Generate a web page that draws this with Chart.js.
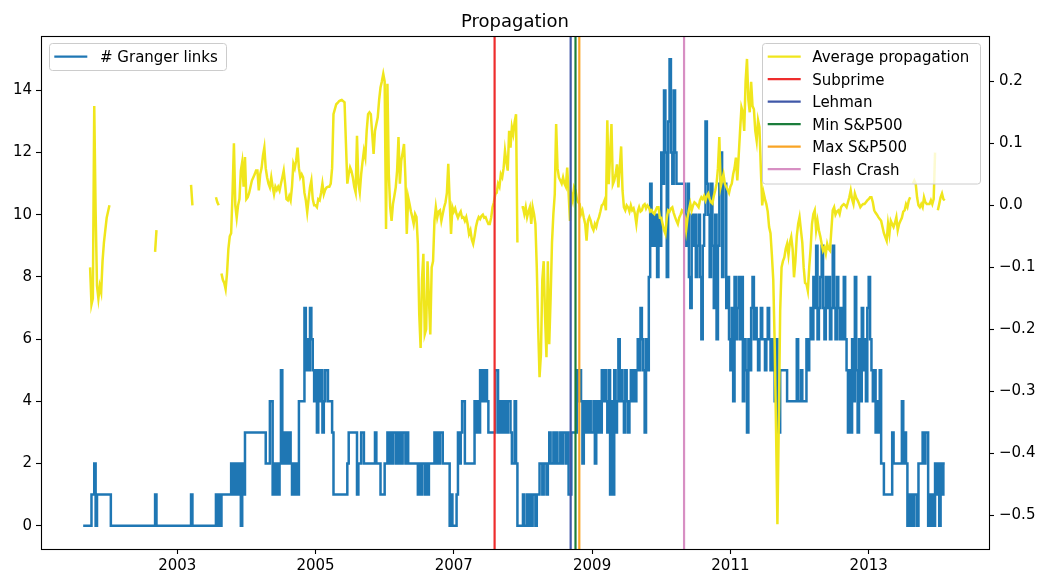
<!DOCTYPE html>
<html><head><meta charset="utf-8">
<script src="https://cdn.jsdelivr.net/npm/chart.js@4.4.0/dist/chart.umd.min.js"></script>
<style>html,body{margin:0;padding:0;background:#fff;}</style>
</head><body>
<canvas id="c" width="1045" height="577"></canvas>
<script>
// ---- data (decimal years, sampled every 0.02 yr from each chunk start) ----
const chunkStarts = [2001.64, 2002, 2003, 2004, 2005, 2006, 2007, 2008, 2009, 2010, 2011, 2012, 2013, 2014];
const grangerLinks = [
 [0,0,0,0,0,0,1,1,2,0,1,1,1,1,1,1,1,1],
 [1,1,0,0,0,0,0,0,0,0, 0,0,0,0,0,0,0,0,0,0, 0,0,0,0,0,0,0,0,0,0, 0,0,0,0,1,0,0,0,0,0, 0,0,0,0,0,0,0,0,0,0],
 [0,0,0,0,0,0,0,0,0,0, 1,0,0,0,0,0,0,0,0,0, 0,0,0,0,0,0,0,0,1,0, 1,0,1,1,1,1,1,1,1,2, 1,2,1,2,1,2,0,2,1,3],
 [3,3,3,3,3,3,3,3,3,3, 3,3,3,3,2,2,2,4,4,1, 2,1,2,1,2,5,2,3,2,3, 2,3,2,1,2,1,2,1,4,4, 4,4,7,5,6,5,7,6,5,4],
 [5,3,5,4,5,3,4,5,5,4, 4,4,3,1,1,1,1,1,1,1, 1,1,1,2,3,3,3,3,3,3, 1,2,2,3,3,2,2,2,2,2, 2,2,2,3,2,2,2,1,1,1],
 [2,2,3,2,3,2,3,3,2,3, 2,3,2,3,3,2,3,2,2,2, 2,2,2,2,1,2,1,2,2,1, 2,1,2,2,2,2,3,2,3,2, 3,3,2,2,2,2,2,0,1,0],
 [0,0,1,3,2,3,4,4,2,2, 2,2,2,2,2,4,3,4,3,5, 4,5,4,5,4,3,3,3,3,3, 5,5,3,4,3,4,3,4,3,4, 4,3,2,2,4,2,0,0,0,0],
 [1,0,0,1,0,1,0,1,1,0, 1,1,2,2,1,2,2,1,2,3, 2,2,3,2,3,2,2,3,2,3, 3,2,3,1,1,3,3,3,3,5, 4,5,4,2,4,3,4,3,4,3],
 [3,4,2,4,3,4,3,5,4,5, 4,3,5,1,4,1,5,3,4,6, 4,5,4,3,5,4,3,4,5,4, 5,4,5,6,5,7,6,5,3,6, 5,8,11,9,10,9,10,8,10,9],
 [12,11,14,12,8,13,15,12,11,14, 12,11,11,11,11,11,11,10,9,11, 8,7,10,9,10,8,9,10,8,6, 9,10,13,11,10,8,11,9,7,10, 6,9,11,12,8,11,11,7,8,6],
 [5,7,4,8,6,7,8,6,8,4, 6,5,3,6,5,7,8,6,7,6, 5,6,7,6,6,5,6,7,6,5, 6,5,4,6,3,3,5,5,5,5, 5,4,4,4,4,4,4,4,6,4],
 [4,5,4,4,4,6,5,6,7,6, 8,7,9,6,7,8,9,7,6,8, 7,8,6,7,9,7,6,8,7,6, 7,6,8,6,5,3,5,3,6,4, 8,5,3,6,4,7,5,6,4,7],
 [8,6,5,4,5,3,4,3,5,2, 2,1,1,1,1,1,1,3,2,2, 2,2,2,2,4,2,3,2,0,1, 0,1,0,1,1,0,2,2,2,3, 2,3,3,0,1,0,1,0,2,1],
 [2,0,2,1,2,2]
];
const avgPropagation = [
 [null,null,null,null,null,-0.10,-0.16,-0.15,0.16,-0.01,-0.13,-0.15,-0.13,-0.14,-0.09,-0.06,-0.04,-0.02],
 [-0.01,0.0,null,null,null,null,null,null,null,null, null,null,null,null,null,null,null,null,null,null, null,null,null,null,null,null,null,null,null,null, null,null,null,null,-0.075,-0.04,null,null,null,null, null,null,null,null,null,null,null,null,null,null],
 [null,null,null,null,null,null,null,null,null,null, 0.033,0.0,null,null,null,null,null,null,null,null, null,null,null,null,null,null,null,null,0.013,0.005, 0.0,null,-0.11,-0.12,-0.125,-0.135,-0.11,-0.07,-0.05,-0.045, 0.02,0.10,0.0,-0.02,0.0,0.01,0.056,0.07,0.03,0.078],
 [0.01,0.013,0.02,0.03,0.04,0.045,0.05,0.056,0.056,0.024, 0.05,0.06,0.08,0.093,0.06,0.045,0.035,0.029,0.045,0.03, 0.018,0.03,0.025,0.03,0.024,0.035,0.045,0.056,0.035,0.01, 0.008,0.015,0.008,0.03,0.067,0.06,0.072,0.093,0.06,0.045, 0.05,0.045,0.02,0.008,-0.011,0.01,0.029,0.04,0.01,0.0],
 [0.0,-0.003,0.01,0.008,0.02,0.035,0.018,0.025,0.029,0.03, 0.03,0.035,0.06,0.147,0.155,0.163,0.165,0.168,0.169,0.17, 0.168,0.166,0.1,0.035,0.05,0.061,0.055,0.045,0.03,0.021, 0.112,0.035,0.021,0.05,0.07,0.088,0.077,0.12,0.147,0.15, 0.147,0.115,0.083,0.12,0.131,0.142,0.17,0.19,0.2,0.212],
 [0.2,-0.038,0.196,0.05,-0.003,-0.025,0.002,0.015,0.029,0.056, 0.11,0.035,0.072,0.085,0.099,0.045,-0.046,0.013,0.002,-0.01, -0.019,-0.03,-0.014,-0.019,-0.062,-0.175,-0.23,-0.12,-0.078,-0.208, -0.2,-0.09,-0.15,-0.208,-0.1,-0.09,-0.025,-0.003,-0.02,-0.01, -0.008,-0.025,-0.014,-0.003,0.005,0.02,0.067,0.008,-0.046,-0.003],
 [-0.01,-0.005,-0.014,-0.02,-0.014,-0.01,-0.02,-0.019,-0.025,-0.019, -0.03,-0.046,-0.04,-0.055,-0.062,-0.05,-0.035,-0.025,-0.019,-0.022, -0.017,-0.015,-0.02,-0.019,-0.025,-0.03,-0.03,-0.02,-0.003,0.005, 0.018,0.02,0.035,0.03,0.05,0.045,0.06,0.088,0.07,0.056, 0.12,0.093,0.126,0.115,0.135,0.147,-0.06,null,null,-0.003],
 [-0.003,-0.014,-0.003,-0.019,-0.01,-0.003,-0.03,-0.003,-0.014,-0.03, -0.10,-0.197,-0.277,-0.24,-0.12,-0.09,-0.18,-0.245,-0.09,-0.224, -0.15,-0.06,-0.014,0.018,0.131,0.06,0.045,0.04,0.035,0.045, 0.035,0.03,0.061,0.02,-0.025,0.018,0.008,0.029,0.024,0.01, 0.005,0.002,-0.014,-0.008,-0.02,-0.03,-0.057,-0.025,-0.019,-0.025],
 [-0.035,-0.04,-0.03,-0.035,-0.025,-0.019,-0.01,0.0,0.002,0.008, -0.008,0.137,0.034,0.08,0.131,0.034,0.04,0.05,0.066,0.029, 0.061,0.095,0.024,-0.003,-0.008,0.0,-0.003,-0.01,0.0,-0.008, -0.005,-0.014,-0.03,-0.01,-0.003,-0.01,-0.008,0.0,0.002,-0.005, 0.0,-0.003,-0.01,-0.008,-0.012,-0.014,-0.008,-0.003,-0.003,-0.02],
 [-0.02,-0.03,-0.04,-0.046,-0.02,-0.008,-0.01,-0.005,-0.003,-0.012, -0.019,-0.025,-0.03,-0.02,-0.015,-0.008,-0.01,-0.019,-0.04,-0.02, -0.008,0.003,-0.008,0.0,0.005,0.003,0.0,-0.003,0.008,0.013, 0.01,0.015,0.008,0.015,0.019,0.01,0.005,0.003,0.015,0.024, 0.035,0.06,0.11,0.03,0.04,0.05,0.035,0.03,0.025,0.02],
 [0.03,0.035,0.05,0.06,0.077,0.04,0.08,0.12,0.158,0.15, 0.12,0.2,0.236,0.17,0.15,0.199,0.16,0.155,0.12,0.104, 0.137,0.126,0.06,0.0,0.02,0.01,0.002,-0.01,-0.035,-0.045, -0.08,-0.12,-0.22,-0.36,-0.514,-0.35,-0.17,-0.1,-0.09,-0.084, -0.07,-0.062,-0.08,-0.06,-0.051,-0.07,-0.116,-0.09,-0.05,-0.03],
 [-0.019,-0.04,-0.06,-0.1,-0.125,-0.127,-0.138,-0.1,-0.07,-0.03, -0.014,-0.008,-0.04,-0.025,-0.04,-0.05,-0.062,-0.073,-0.068,-0.078, -0.062,-0.07,-0.073,-0.04,-0.008,-0.003,-0.015,-0.01,-0.008,-0.014, -0.003,0.0,0.002,0.0,-0.003,0.005,0.013,0.024,0.01,0.002, 0.019,0.012,0.008,0.003,-0.003,0.0,0.002,0.002,0.005,0.008],
 [0.01,0.013,0.013,0.005,-0.008,-0.012,-0.015,-0.019,-0.022,-0.025, -0.035,-0.045,-0.051,-0.057,-0.03,-0.046,-0.025,-0.03,-0.035,-0.028, -0.019,-0.04,-0.03,-0.025,-0.02,-0.01,-0.008,0.002,-0.003,0.008, 0.013,null,0.035,0.04,0.035,0.013,0.0,-0.003,0.002,-0.003, 0.013,0.005,0.002,0.002,0.002,0.008,0.002,0.01,0.085,null],
 [-0.008,0.002,0.013,0.019,0.01,0.008]
];
const eventLabels = ['Subprime', 'Lehman', 'Min S&P500', 'Max S&P500', 'Flash Crash'];
const eventDates = [2007.59, 2008.69, 2008.76, 2008.815, 2010.33];
const xTickYears = [2003, 2005, 2007, 2009, 2011, 2013];
const leftTicks = [0, 2, 4, 6, 8, 10, 12, 14];
const rightTicks = [-0.5, -0.4, -0.3, -0.2, -0.1, 0.0, 0.1, 0.2];

// ---- styles ----
const eventColors = ['#ee2d2d', '#4058a8', '#1b7d3b', '#f9a425', '#d78fc3'];
const yellow = '#f0e61c';
const blue = '#1f77b4';
const FONT = 'DejaVu Sans';

function toPoints(chunks) {
  const pts = [];
  chunks.forEach((arr, c) => arr.forEach((v, j) => pts.push({ x: +(chunkStarts[c] + 0.02 * j).toFixed(3), y: v })));
  return pts;
}

const datasets = [];
eventLabels.forEach((lab, i) => datasets.push({
  label: lab, data: [{ x: eventDates[i], y: -5 }, { x: eventDates[i], y: 5 }], yAxisID: 'y2',
  borderColor: eventColors[i], borderWidth: 2.2, pointRadius: 0, order: 0, clip: 0
}));
datasets.push({ label: 'Average propagation', data: toPoints(avgPropagation), yAxisID: 'y2',
  borderColor: yellow, borderWidth: 2.5, pointRadius: 0, spanGaps: false, order: 1, tension: 0 });
datasets.push({ label: '# Granger links', data: toPoints(grangerLinks), yAxisID: 'y',
  borderColor: blue, borderWidth: 2.5, pointRadius: 0, stepped: true, order: 2 });

function fmtRight(v) { return (v < 0 ? '\u2212' : '') + Math.abs(v).toFixed(1); }

function roundRect(ctx, x, y, w, h, r) {
  ctx.beginPath();
  ctx.moveTo(x + r, y); ctx.lineTo(x + w - r, y); ctx.quadraticCurveTo(x + w, y, x + w, y + r);
  ctx.lineTo(x + w, y + h - r); ctx.quadraticCurveTo(x + w, y + h, x + w - r, y + h);
  ctx.lineTo(x + r, y + h); ctx.quadraticCurveTo(x, y + h, x, y + h - r);
  ctx.lineTo(x, y + r); ctx.quadraticCurveTo(x, y, x + r, y); ctx.closePath();
}

function drawLegend(ctx, entries, box, handleX, textX, firstY, rowH) {
  ctx.save();
  roundRect(ctx, box.x, box.y, box.w, box.h, 3);
  ctx.fillStyle = 'rgba(255,255,255,0.8)'; ctx.fill();
  ctx.strokeStyle = '#cccccc'; ctx.lineWidth = 1; ctx.stroke();
  ctx.font = '15px "' + FONT + '"'; ctx.textAlign = 'left'; ctx.textBaseline = 'alphabetic';
  entries.forEach((e, k) => {
    const y = firstY + k * rowH;
    ctx.strokeStyle = e.color; ctx.lineWidth = 2.2;
    ctx.beginPath(); ctx.moveTo(handleX, y); ctx.lineTo(handleX + 33, y); ctx.stroke();
    ctx.fillStyle = '#000'; ctx.fillText(e.label, textX, y + 5.6);
  });
  ctx.restore();
}

const decor = {
  id: 'decor',
  afterDatasetsDraw(chart) {
    const { ctx, chartArea: a } = chart;
    ctx.save();
    ctx.strokeStyle = '#000'; ctx.lineWidth = 1.1;
    ctx.strokeRect(Math.round(a.left) + 0.5, Math.round(a.top) + 0.5, Math.round(a.right - a.left), Math.round(a.bottom - a.top));
    ctx.fillStyle = '#000'; ctx.font = '18px "' + FONT + '"'; ctx.textAlign = 'center'; ctx.textBaseline = 'alphabetic';
    ctx.fillText('Propagation', (a.left + a.right) / 2, 26.5);
    ctx.restore();
    const ds = chart.data.datasets;
    const leftEntries = ds.filter(d => d.yAxisID === 'y').map(d => ({ label: d.label, color: d.borderColor }));
    const rightEntries = [ds.find(d => d.label === 'Average propagation')].concat(ds.filter(d => eventLabels.includes(d.label)))
      .map(d => ({ label: d.label, color: d.borderColor }));
    drawLegend(ctx, leftEntries, { x: 49.5, y: 43.5, w: 177, h: 27 }, 54.3, 100, 56.7, 22.5);
    drawLegend(ctx, rightEntries, { x: 762.5, y: 43.5, w: 218, h: 140.5 }, 767.7, 812.3, 56.7, 22.5);
  }
};

Chart.defaults.font.family = FONT;
new Chart(document.getElementById('c'), {
  type: 'line',
  data: { datasets },
  options: {
    responsive: false, animation: false, normalized: true,
    layout: { padding: { top: 36, left: 0, right: 0, bottom: 0 } },
    plugins: { legend: { display: false }, tooltip: { enabled: false }, title: { display: false } },
    scales: {
      x: {
        type: 'linear', min: 2001.03, max: 2014.74,
        afterBuildTicks: s => { s.ticks = xTickYears.map(v => ({ value: v })); },
        ticks: { callback: v => String(v), font: { size: 15 }, color: '#000', padding: 3, maxRotation: 0, autoSkip: false },
        grid: { drawOnChartArea: false, drawTicks: true, tickLength: 5, tickWidth: 1.1, tickColor: '#000' },
        border: { display: false },
        afterFit: s => { s.height = 28; }
      },
      y: {
        position: 'left', min: -0.75, max: 15.75,
        afterBuildTicks: s => { s.ticks = leftTicks.map(v => ({ value: v })); },
        ticks: { callback: v => String(v), font: { size: 15 }, color: '#000', padding: 4, autoSkip: false },
        grid: { drawOnChartArea: false, drawTicks: true, tickLength: 5, tickWidth: 1.1, tickColor: '#000' },
        border: { display: false },
        afterFit: s => { s.width = 41; }
      },
      y2: {
        position: 'right', min: -0.554, max: 0.273,
        afterBuildTicks: s => { s.ticks = rightTicks.map(v => ({ value: v })); },
        ticks: { callback: v => fmtRight(v), font: { size: 15 }, color: '#000', padding: 5, autoSkip: false },
        grid: { drawOnChartArea: false, drawTicks: true, tickLength: 5, tickWidth: 1.1, tickColor: '#000' },
        border: { display: false },
        afterFit: s => { s.width = 56; }
      }
    }
  },
  plugins: [decor]
});
</script>
</body></html>
